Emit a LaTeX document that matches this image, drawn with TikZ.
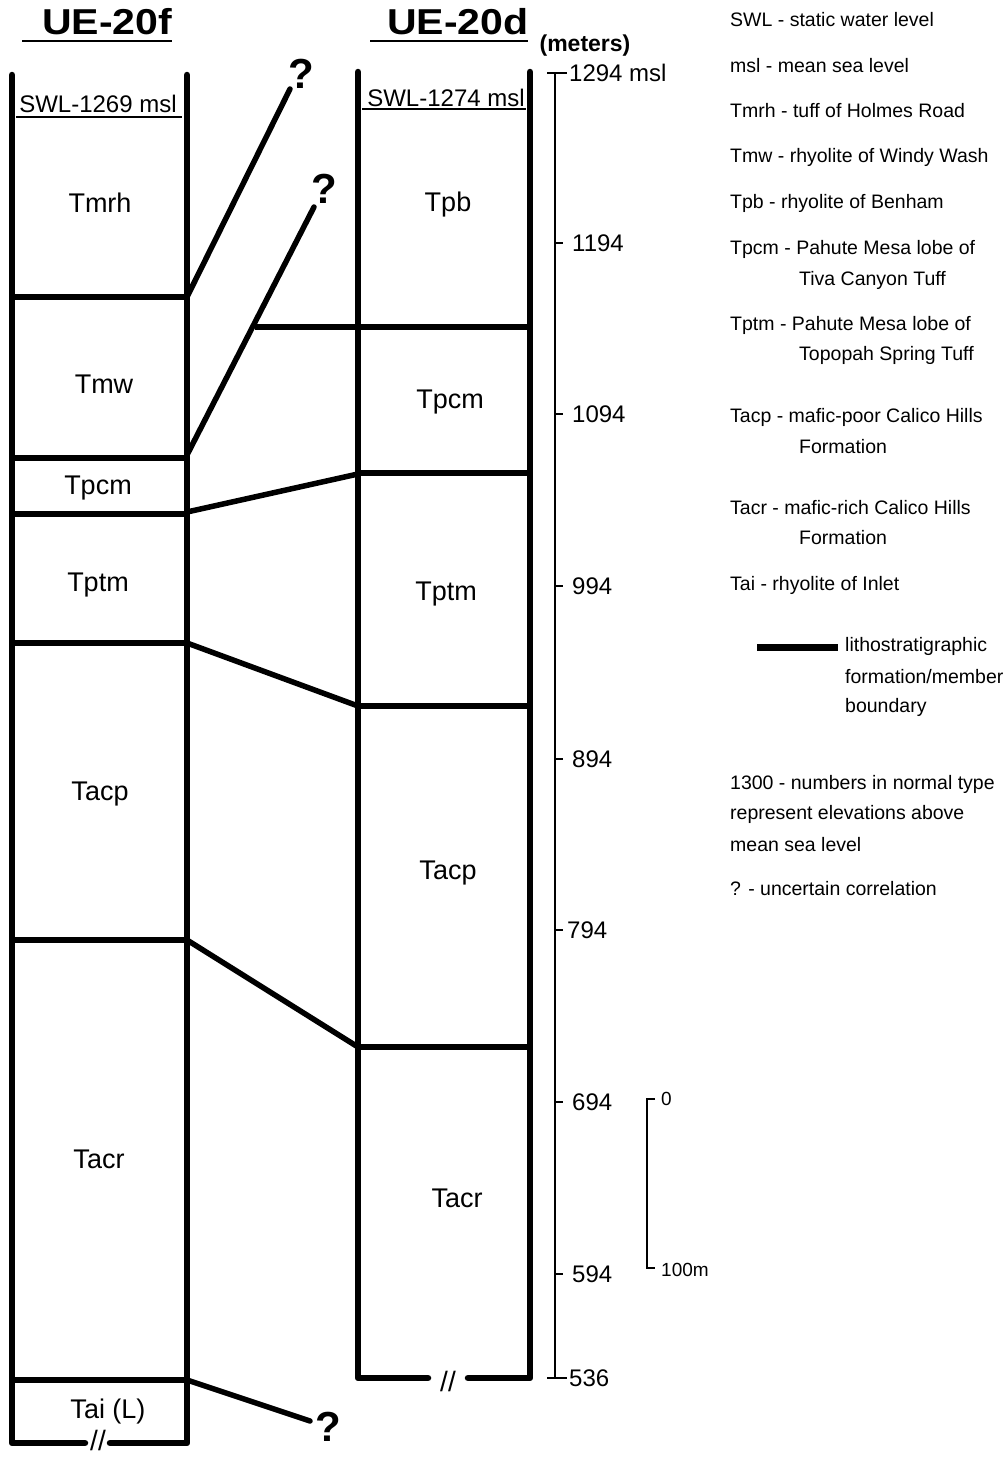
\documentclass[tikz,border=0pt]{standalone}
\usepackage{fontspec}
\setmainfont{Liberation Sans}
\begin{document}
\begin{tikzpicture}[x=1pt,y=-1pt,
  wall/.style={line width=6.5pt,line cap=round,line join=round},
  bound/.style={line width=5.5pt},
  corr/.style={line width=5.5pt,line cap=round},
  thin/.style={line width=1.6pt},
  unitlab/.style={font=\fontsize{27}{27}\selectfont,inner sep=0pt},
  swl/.style={font=\fontsize{24}{24}\selectfont,inner sep=0pt},
  title/.style={font=\bfseries\fontsize{36}{36}\selectfont,inner sep=0pt},
  leg/.style={font=\fontsize{19.5}{20}\selectfont,anchor=west,inner sep=0pt},
  num/.style={font=\fontsize{24}{24}\selectfont,anchor=west,inner sep=0pt},
  qm/.style={font=\bfseries\fontsize{42}{42}\selectfont,inner sep=0pt},
  brk/.style={font=\fontsize{28}{28}\selectfont,inner sep=0pt},
]
\useasboundingbox (0,0) rectangle (1007,1457);

% ---------- titles ----------
\node[title] (t1) at (107,22) {\scalebox{1.14}[1]{UE-20f}};
\draw[line width=2pt] (22,41) -- (172,41);
\node[title] (t2) at (458,22) {\scalebox{1.14}[1]{UE-20d}};
\draw[line width=2pt] (370,41) -- (528,41);
\node[font=\bfseries\fontsize{23}{23}\selectfont,inner sep=0pt] (met) at (585,46) {(meters)};

% ---------- column UE-20f ----------
\draw[wall] (85,1443) -- (12,1443) -- (12,75);
\draw[wall] (110,1443) -- (187,1443) -- (187,75);
\node[brk] (brf) at (98,1440) {//};
\node[swl] (swlf) at (98,104) {SWL-1269 msl};
\draw[line width=1.2pt] (16,117) -- (182,117);
\foreach \yy in {297,458,514,643,940,1380}
  \draw[bound] (12,\yy) -- (187,\yy);

\node[unitlab] (f-tmrh) at (100,203) {Tmrh};
\node[unitlab] (f-tmw)  at (104,384) {Tmw};
\node[unitlab] (f-tpcm) at (98,488) {Tpcm};
\node[unitlab] (f-tptm) at (98,585) {Tptm};
\node[unitlab] (f-tacp) at (100,794) {Tacp};
\node[unitlab] (f-tacr) at (99,1159) {Tacr};
\node[unitlab] (f-tai)  at (108,1411) {Tai (L)};

% ---------- column UE-20d ----------
\draw[wall] (428,1378) -- (358,1378) -- (358,72);
\draw[wall] (468,1378) -- (530,1378) -- (530,72);
\node[brk] (brd) at (448,1381) {//};
\node[swl] (swld) at (446,98) {SWL-1274 msl};
\draw[line width=1.2pt] (362,109) -- (526,109);
\draw[bound] (255,327) -- (530,327);
\foreach \yy in {473,706,1047}
  \draw[bound] (358,\yy) -- (530,\yy);

\node[unitlab] (d-tpb)  at (448,205) {Tpb};
\node[unitlab] (d-tpcm) at (450,402) {Tpcm};
\node[unitlab] (d-tptm) at (446,594) {Tptm};
\node[unitlab] (d-tacp) at (448,873) {Tacp};
\node[unitlab] (d-tacr) at (457,1198) {Tacr};

% ---------- correlation lines ----------
\coordinate (a1) at (187,297);  \coordinate (b1) at (290,89);
\coordinate (a2) at (187,455);  \coordinate (b2) at (314,207);
\coordinate (a3) at (187,512);  \coordinate (b3) at (358,474);
\coordinate (a4) at (187,643);  \coordinate (b4) at (358,706);
\coordinate (a5) at (187,940);  \coordinate (b5) at (358,1047);
\coordinate (a6) at (187,1380); \coordinate (b6) at (310,1421);
\foreach \i in {1,...,6} \draw[corr] (a\i) -- (b\i);
\node[qm] (q1) at (301,74) {?};
\node[qm] (q2) at (324,189) {?};
\node[qm] (q3) at (328,1427) {?};

% ---------- elevation axis ----------
\draw[thin] (555,73) -- (555,1378);
\draw[thin] (547,73) -- (567,73);
\draw[thin] (547,1378) -- (567,1378);
\foreach \yy in {243,414,586,759,930,1102,1274}
  \draw[thin] (555,\yy) -- (563,\yy);
\node[num] (e1294) at (569,73) {1294 msl};
\node[num] (e1194) at (572,243) {1194};
\node[num] (e1094) at (572,414) {1094};
\node[num] (e994)  at (572,586) {994};
\node[num] (e894)  at (572,759) {894};
\node[num] (e794)  at (567,930) {794};
\node[num] (e694)  at (572,1102) {694};
\node[num] (e594)  at (572,1274) {594};
\node[num] (e536)  at (569,1378) {536};

% ---------- scale bar ----------
\draw[thin] (655,1099) -- (647,1099) -- (647,1268) -- (655,1268);
\node[font=\fontsize{19}{19}\selectfont,anchor=west,inner sep=0pt] (s0) at (661,1099) {0};
\node[font=\fontsize{19}{19}\selectfont,anchor=west,inner sep=0pt] (s100) at (661,1270) {100m};

% ---------- legend ----------
\node[leg] (l1)  at (730,20)  {SWL - static water level};
\node[leg] (l2)  at (730,66)  {msl - mean sea level};
\node[leg] (l3)  at (730,111) {Tmrh - tuff of Holmes Road};
\node[leg] (l4)  at (730,157) {Tmw - rhyolite of Windy Wash};
\node[leg] (l5)  at (730,203) {Tpb - rhyolite of Benham};
\node[leg] (l6)  at (730,249) {Tpcm - Pahute Mesa lobe of};
\node[leg] (l6b) at (799,280) {Tiva Canyon Tuff};
\node[leg] (l7)  at (730,325) {Tptm - Pahute Mesa lobe of};
\node[leg] (l7b) at (799,355) {Topopah Spring Tuff};
\node[leg] (l8)  at (730,417) {Tacp - mafic-poor Calico Hills};
\node[leg] (l8b) at (799,447) {Formation};
\node[leg] (l9)  at (730,508) {Tacr - mafic-rich Calico Hills};
\node[leg] (l9b) at (799,538) {Formation};
\node[leg] (l10) at (730,585) {Tai - rhyolite of Inlet};
\draw[line width=7pt] (757,647) -- (838,647);
\node[leg] (l11) at (845,646) {lithostratigraphic};
\node[leg] (l11b) at (845,677) {formation/member};
\node[leg] (l11c) at (845,707) {boundary};
\node[leg] (l12) at (730,784) {1300 - numbers in normal type};
\node[leg] (l12b) at (730,814) {represent elevations above};
\node[leg] (l12c) at (730,845) {mean sea level};
\node[leg] (l13) at (730,889) {? - uncertain correlation};
\end{tikzpicture}
\end{document}
